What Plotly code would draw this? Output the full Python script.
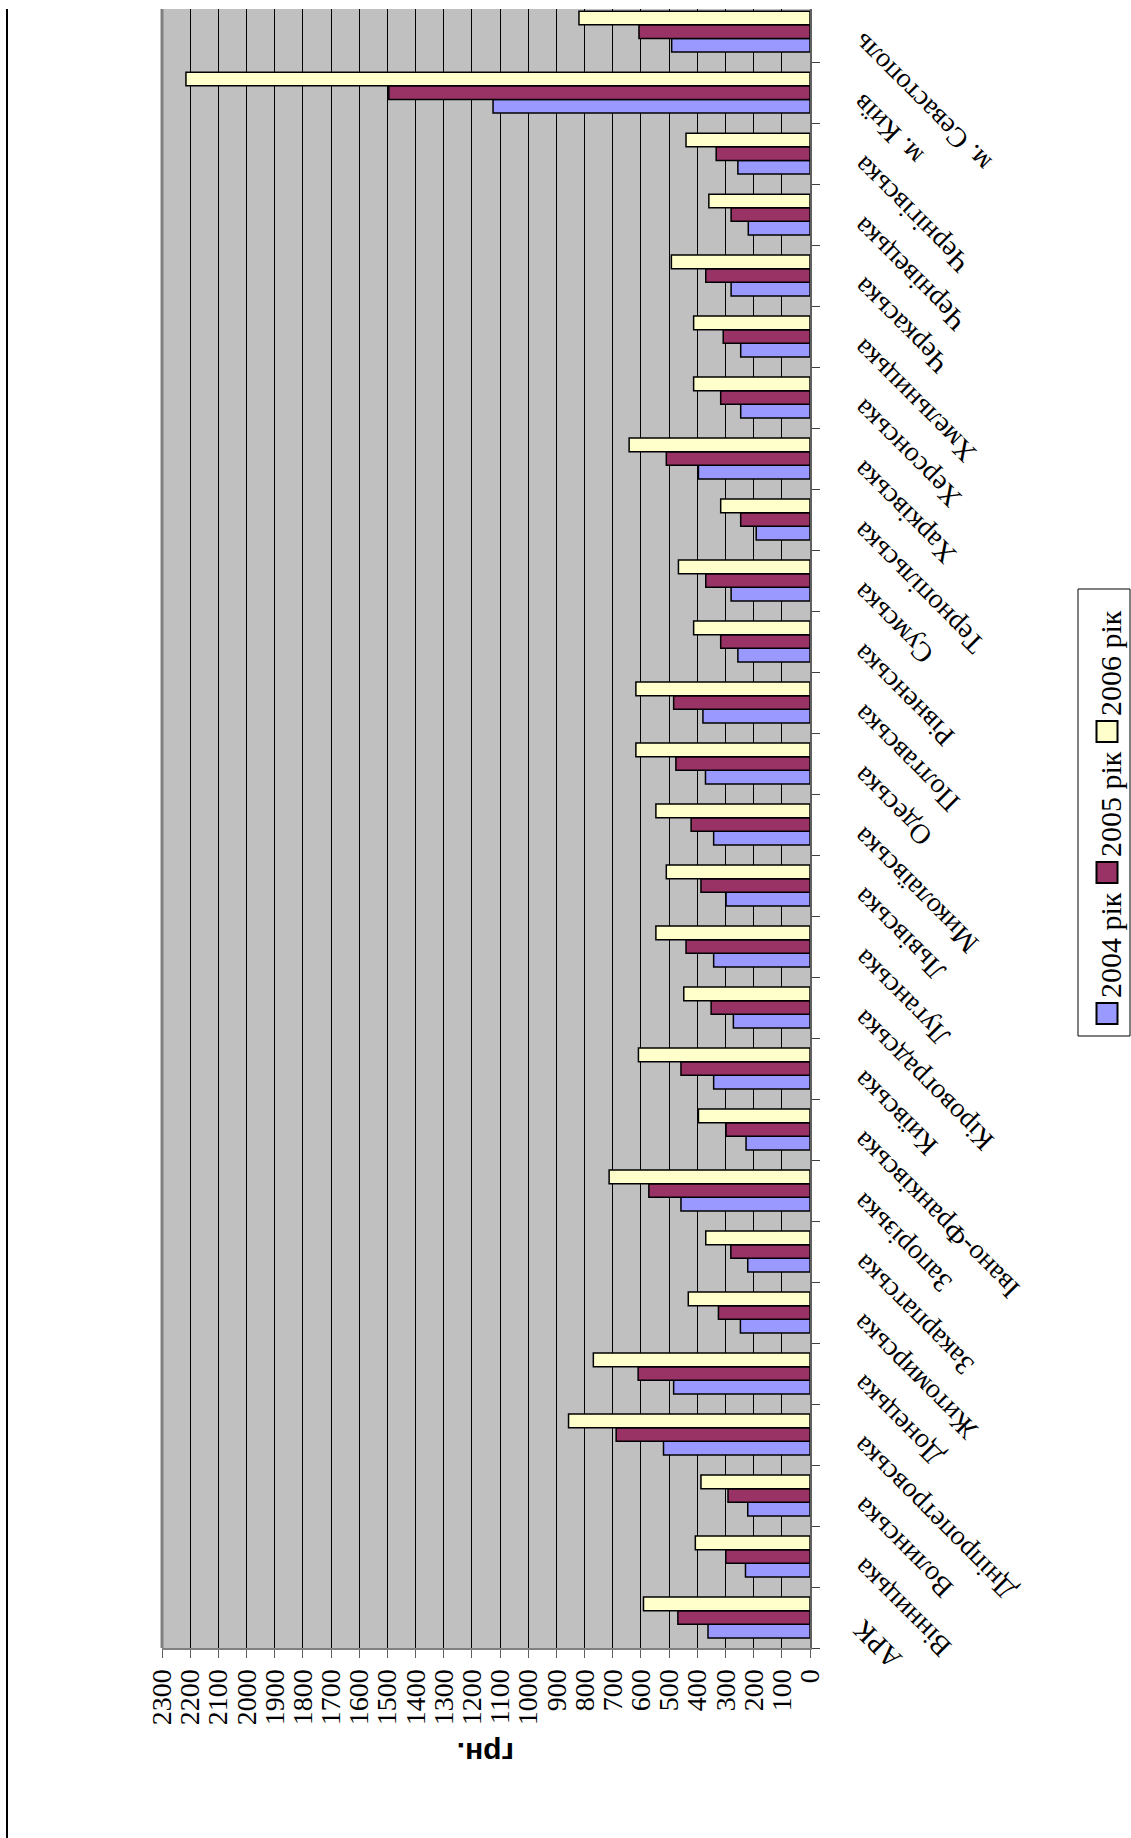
import plotly.graph_objects as go

# Регіони (знизу вгору) та значення, грн.
regions = [
    "АРК", "Вінницька", "Волинська", "Дніпропетровська", "Донецька",
    "Житомирська", "Закарпатська", "Запорізька", "Івано-Франківська",
    "Київська", "Кіровоградська", "Луганська", "Львівська", "Миколаївська",
    "Одеська", "Полтавська", "Рівненська", "Сумська", "Тернопільська",
    "Харківська", "Херсонська", "Хмельницька", "Черкаська", "Чернівецька",
    "Чернігівська", "м. Київ", "м. Севастополь",
]
v2004 = [362, 229, 221, 520, 484, 247, 221, 458, 227, 342, 272, 342, 298, 342,
         371, 380, 256, 280, 191, 396, 246, 246, 280, 219, 256, 1125, 491]
v2005 = [469, 299, 291, 688, 610, 325, 281, 572, 298, 458, 351, 440, 387, 422,
         476, 484, 317, 370, 246, 510, 317, 308, 370, 280, 333, 1495, 607]
v2006 = [591, 407, 387, 857, 769, 432, 370, 713, 396, 609, 448, 547, 510, 547,
         618, 618, 413, 467, 317, 642, 413, 413, 492, 359, 440, 2215, 820]

series_names = ["2004 рік", "2005 рік", "2006 рік"]
series_colors = ["#9999FF", "#993366", "#FFFFCC"]
value_ticks = list(range(0, 2400, 100))

W, H = 1131, 1838
L, R, T, B = 162, 321, 9, 190
PW, PH = W - L - R, H - T - B
BOTTOM_PX = H - B


def px_x(px):
    return (px - L) / PW


def px_y(py):
    return (BOTTOM_PX - py) / PH


SERIF = "Liberation Serif"

fig = go.Figure()
for name, vals, col in zip(series_names, [v2004, v2005, v2006], series_colors):
    fig.add_trace(go.Bar(
        y=regions, x=vals, name=name, orientation="h",
        marker=dict(color=col, line=dict(color="black", width=1.5)),
        showlegend=False,
    ))

fig.update_layout(
    width=W, height=H,
    margin=dict(l=L, r=R, t=T, b=B, pad=0),
    paper_bgcolor="white",
    plot_bgcolor="#C0C0C0",
    barmode="group",
    bargap=0.33,
    bargroupgap=0,
    font=dict(family=SERIF, color="black"),
)

fig.update_xaxes(
    range=[2300, 0],
    tickmode="array", tickvals=value_ticks, ticktext=[str(v) for v in value_ticks],
    tickangle=-90,
    tickfont=dict(family=SERIF, size=28, color="black"),
    ticks="outside", ticklen=8, tickcolor="#606060", tickwidth=1,
    showgrid=True, gridcolor="black", gridwidth=1,
    zeroline=False,
    showline=True, linecolor="#808080", linewidth=2,
)

fig.update_yaxes(
    type="category",
    categoryorder="array", categoryarray=regions,
    range=[-0.5, 26.37],
    side="right",
    showticklabels=False,
    ticks="outside", ticklen=8, tickcolor="#404040", tickwidth=1,
    tickson="boundaries",
    showgrid=False, zeroline=False,
    showline=True, linecolor="#606060", linewidth=2,
)

# Підписи регіонів, повернуті по діагоналі
for reg in regions:
    fig.add_annotation(
        x=1, xref="paper", y=reg, yref="y",
        text=reg, textangle=-135, showarrow=False,
        xanchor="left", yanchor="top",
        xshift=35, yshift=5, borderpad=0,
        font=dict(family=SERIF, size=28, color="black"),
    )

# Назва осі значень
fig.add_annotation(
    x=px_x(486), xref="paper", y=px_y(1754), yref="paper",
    text="грн.", textangle=180, showarrow=False,
    xanchor="center", yanchor="middle",
    font=dict(family="Liberation Sans", size=30, color="black", weight="bold"),
)

shapes = []
# ліва межа області побудови
shapes.append(dict(type="line", xref="paper", yref="paper",
                   x0=0, x1=0, y0=0, y1=1,
                   line=dict(color="#808080", width=3)))
# вертикальна лінія біля лівого краю
shapes.append(dict(type="line", xref="paper", yref="paper",
                   x0=px_x(7), x1=px_x(7), y0=px_y(H), y1=px_y(9),
                   line=dict(color="black", width=2)))

# Легенда (повернута)
lg_x0, lg_x1, lg_y0, lg_y1 = 1078, 1130, 589, 1036
shapes.append(dict(type="rect", xref="paper", yref="paper",
                   x0=px_x(lg_x0), x1=px_x(lg_x1), y0=px_y(lg_y1), y1=px_y(lg_y0),
                   line=dict(color="black", width=1), fillcolor="white"))
sw = 21
cx_sw, cx_txt = 1107, 1110
y_cursor = lg_y1 - 12
for name, col in zip(series_names, series_colors):
    shapes.append(dict(type="rect", xref="paper", yref="paper",
                       x0=px_x(cx_sw - sw / 2), x1=px_x(cx_sw + sw / 2),
                       y0=px_y(y_cursor), y1=px_y(y_cursor - sw),
                       line=dict(color="black", width=2), fillcolor=col))
    y_cursor -= sw + 4
    fig.add_annotation(
        x=px_x(cx_txt), xref="paper", y=px_y(y_cursor), yref="paper",
        text=name, textangle=-90, showarrow=False,
        xanchor="center", yanchor="bottom", borderpad=0,
        font=dict(family=SERIF, size=30, color="black"),
    )
    y_cursor -= 106 + 10

fig.update_layout(shapes=shapes)

fig.write_html("out.html")
